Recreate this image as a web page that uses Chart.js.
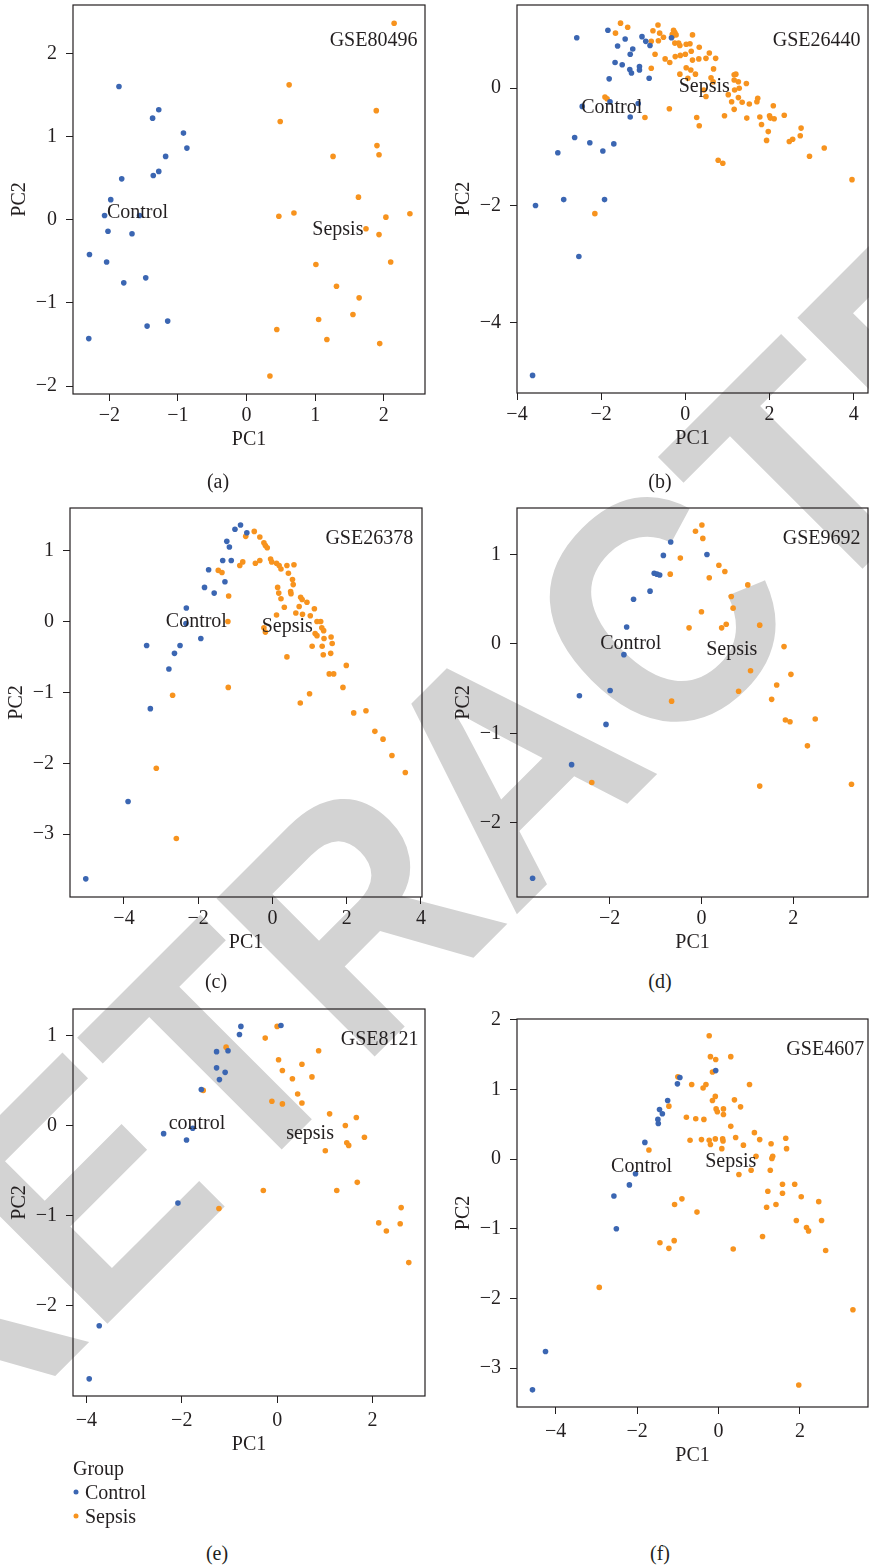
<!DOCTYPE html>
<html>
<head>
<meta charset="utf-8">
<script src="https://cdn.jsdelivr.net/npm/chart.js@4.4.1/dist/chart.umd.min.js"></script>
<style>
html,body{margin:0;padding:0;width:869px;height:1567px;overflow:hidden;background:#fff;}
#page{position:relative;width:869px;height:1567px;overflow:hidden;}
#page canvas{position:absolute;z-index:1;}
#wm{position:absolute;left:0;top:0;z-index:0;}
.lab{position:absolute;z-index:2;font-family:"Liberation Serif",serif;font-size:20px;line-height:24px;color:#231f20;white-space:nowrap;}
.ctr{transform:translate(-50%,-50%);}
.dot{position:absolute;z-index:2;width:5px;height:5px;border-radius:50%;transform:translate(-50%,-50%);}
</style>
</head>
<body>
<div id="page">
<svg id="wm" width="869" height="1567" xmlns="http://www.w3.org/2000/svg">
  <text x="0" y="0" transform="translate(-57.6 1488.8) rotate(-45) scale(0.91 1)" font-family="Liberation Sans, Arial, sans-serif" font-weight="bold" font-size="325" fill="#d3d3d3">RETRACTED</text>
</svg>
</div>
<script>
// ---------- data ----------
const groups = ['Control', 'Sepsis'];
const groupsLower = ['control', 'sepsis'];
const datasetIds = ['GSE80496', 'GSE26440', 'GSE26378', 'GSE9692', 'GSE8121', 'GSE4607'];
const panelTags = ['(a)', '(b)', '(c)', '(d)', '(e)', '(f)'];
const axisTitles = ['PC1', 'PC2'];
const legendTitle = 'Group';

const ctrlA = [[-1.86,1.60],[-1.28,1.32],[-1.37,1.22],[-0.92,1.04],[-0.87,0.86],[-1.18,0.76],[-1.28,0.58],[-1.36,0.53],[-1.82,0.49],[-1.98,0.24],[-2.07,0.05],[-1.56,0.05],[-2.02,-0.14],[-1.67,-0.17],[-2.29,-0.42],[-2.04,-0.51],[-1.79,-0.76],[-1.47,-0.70],[-1.45,-1.28],[-1.15,-1.22],[-2.30,-1.43]];
const sepsA = [[2.15,2.36],[0.62,1.62],[1.89,1.31],[0.49,1.18],[1.90,0.89],[1.93,0.78],[1.26,0.76],[1.63,0.27],[0.47,0.04],[0.69,0.08],[2.38,0.07],[2.03,0.03],[1.74,-0.11],[1.93,-0.18],[2.10,-0.51],[1.01,-0.54],[1.31,-0.80],[1.64,-0.94],[1.55,-1.14],[1.05,-1.20],[1.17,-1.44],[1.94,-1.49],[0.44,-1.32],[0.34,-1.88]];

const ctrlB = [[-2.58,0.86],[-1.84,0.99],[-1.03,0.88],[-1.43,0.84],[-1.61,0.72],[-1.25,0.67],[-0.94,0.80],[-0.84,0.73],[-1.31,0.58],[-1.67,0.44],[-1.50,0.40],[-1.32,0.32],[-1.28,0.26],[-1.09,0.37],[-1.09,0.31],[-0.86,0.17],[-1.81,0.16],[-0.33,0.86],[-1.79,-0.23],[-2.45,-0.31],[-1.12,-0.26],[-1.31,-0.49],[-2.63,-0.84],[-2.27,-0.93],[-1.70,-0.95],[-1.96,-1.07],[-3.03,-1.10],[-2.89,-1.90],[-1.92,-1.90],[-3.56,-2.00],[-2.53,-2.87],[-3.63,-4.90]];
const sepsB = [[-1.54,1.11],[-1.37,1.04],[-1.66,0.94],[-0.65,1.08],[-0.77,0.98],[-0.61,0.94],[-0.52,0.87],[-0.64,0.81],[-0.81,0.80],[-0.28,0.99],[-0.25,0.95],[-0.31,0.92],[-0.22,0.91],[-0.30,0.89],[0.17,0.91],[-0.72,0.58],[-0.25,0.77],[-0.13,0.73],[-0.16,0.77],[0.02,0.75],[0.11,0.76],[0.33,0.70],[-0.24,0.54],[-0.12,0.56],[0.00,0.58],[0.14,0.63],[-0.48,0.50],[-0.37,0.44],[0.17,0.48],[0.32,0.50],[0.49,0.51],[0.57,0.60],[0.72,0.51],[-0.81,0.34],[0.02,0.35],[0.13,0.31],[-0.13,0.24],[0.24,0.24],[0.06,0.17],[0.67,0.33],[0.61,0.18],[0.66,0.11],[0.49,-0.14],[0.44,-0.03],[1.16,0.23],[1.20,0.24],[1.26,0.11],[1.45,0.08],[1.16,0.14],[1.17,-0.03],[1.28,0.00],[1.02,-0.11],[1.26,-0.16],[1.35,-0.24],[1.10,-0.23],[1.16,-0.36],[1.52,-0.27],[1.72,-0.17],[1.70,-0.23],[2.09,-0.30],[0.93,-0.47],[1.46,-0.51],[1.77,-0.49],[2.00,-0.47],[2.02,-0.51],[2.11,-0.52],[2.35,-0.46],[1.81,-0.62],[1.97,-0.74],[1.93,-0.89],[2.47,-0.91],[2.55,-0.87],[2.75,-0.68],[2.73,-0.81],[3.30,-1.02],[2.95,-1.16],[3.96,-1.56],[0.27,-0.50],[0.33,-0.64],[0.78,-1.23],[0.89,-1.28],[-0.38,-0.35],[-0.96,-0.50],[-1.91,-0.15],[-1.86,-0.18],[-2.15,-2.14]];

const ctrlC = [[-0.86,1.36],[-1.01,1.30],[-0.69,1.25],[-1.23,1.13],[-1.16,1.05],[-1.34,0.86],[-1.11,0.86],[-1.72,0.73],[-1.28,0.56],[-1.83,0.48],[-1.57,0.40],[-2.32,0.19],[-2.33,-0.03],[-1.93,-0.24],[-3.39,-0.34],[-2.49,-0.34],[-2.64,-0.45],[-2.79,-0.67],[-3.29,-1.23],[-3.89,-2.54],[-5.03,-3.63]];
const sepsC = [[-0.49,1.27],[-0.34,1.19],[-0.72,1.20],[-0.23,1.11],[-0.19,1.07],[-0.14,1.04],[-0.88,0.79],[-0.80,0.84],[-0.46,0.82],[-0.34,0.86],[-0.05,0.88],[-0.02,0.84],[0.11,0.82],[0.18,0.79],[0.23,0.74],[0.39,0.79],[0.58,0.80],[0.43,0.68],[0.54,0.59],[0.56,0.52],[0.14,0.48],[0.17,0.40],[0.23,0.32],[0.32,0.20],[0.49,0.42],[0.50,0.39],[0.76,0.34],[0.80,0.31],[0.72,0.21],[0.93,0.27],[1.13,0.18],[0.63,0.12],[0.81,0.10],[1.02,0.08],[0.11,0.09],[1.20,0.00],[1.30,0.00],[1.33,-0.09],[1.38,-0.13],[1.15,-0.17],[1.20,-0.20],[1.39,-0.24],[1.58,-0.22],[1.61,-0.31],[1.34,-0.35],[1.07,-0.35],[1.37,-0.47],[1.57,-0.45],[0.39,-0.50],[-0.23,-0.09],[-0.19,-0.15],[1.53,-0.74],[1.65,-0.74],[1.99,-0.62],[1.90,-0.93],[1.00,-1.02],[0.75,-1.15],[2.19,-1.29],[2.52,-1.26],[2.76,-1.55],[2.98,-1.66],[3.22,-1.89],[3.58,-2.13],[-1.46,0.72],[-1.36,0.69],[-1.18,0.36],[-1.20,0.00],[-1.19,-0.93],[-2.69,-1.04],[-3.13,-2.07],[-2.59,-3.06]];

const ctrlD = [[-0.67,1.14],[-0.83,0.99],[0.12,1.00],[-1.03,0.79],[-0.97,0.78],[-0.91,0.77],[-1.12,0.59],[-1.48,0.50],[-1.63,0.19],[-1.69,-0.12],[-1.99,-0.52],[-2.66,-0.58],[-2.08,-0.90],[-2.83,-1.35],[-3.68,-2.62]];
const sepsD = [[0.01,1.33],[-0.13,1.26],[0.03,1.18],[-0.46,0.96],[-0.68,0.78],[0.38,0.88],[0.51,0.81],[0.17,0.74],[1.01,0.66],[0.65,0.53],[0.69,0.40],[0.00,0.36],[-0.27,0.18],[0.44,0.18],[0.54,0.22],[1.27,0.21],[1.80,-0.03],[1.07,-0.30],[1.95,-0.34],[1.64,-0.46],[0.81,-0.53],[1.53,-0.62],[-0.65,-0.64],[1.83,-0.85],[1.93,-0.87],[2.48,-0.84],[2.31,-1.14],[-2.39,-1.55],[1.27,-1.59],[3.27,-1.57]];

const ctrlE = [[-0.76,1.10],[-0.79,1.01],[0.08,1.11],[-1.27,0.82],[-1.03,0.83],[-1.27,0.64],[-1.09,0.59],[-1.21,0.51],[-1.59,0.40],[-2.38,-0.09],[-1.77,-0.03],[-1.90,-0.16],[-2.08,-0.86],[-3.73,-2.22],[-3.94,-2.81]];
const sepsE = [[0.00,1.10],[-0.25,0.97],[-1.07,0.87],[0.87,0.83],[0.03,0.73],[0.52,0.68],[0.11,0.61],[0.32,0.52],[0.73,0.54],[0.43,0.35],[-0.11,0.27],[0.11,0.24],[0.52,0.25],[-1.55,0.39],[1.10,0.13],[1.66,0.09],[1.43,0.00],[1.83,-0.13],[1.46,-0.19],[1.50,-0.22],[1.01,-0.28],[1.68,-0.63],[1.25,-0.72],[-0.29,-0.72],[-1.22,-0.92],[2.60,-0.91],[2.13,-1.08],[2.58,-1.09],[2.29,-1.17],[2.76,-1.52]];

const ctrlF = [[-0.07,1.27],[-0.95,1.17],[-1.01,1.08],[-1.25,0.84],[-1.45,0.71],[-1.38,0.65],[-1.49,0.57],[-1.48,0.51],[-1.81,0.24],[-2.04,-0.21],[-2.19,-0.37],[-2.57,-0.53],[-2.51,-1.00],[-4.25,-2.76],[-4.57,-3.31]];
const sepsF = [[-0.23,1.77],[-0.20,1.47],[-0.07,1.43],[0.30,1.47],[-0.15,1.25],[-1.00,1.18],[-0.66,1.07],[-0.38,1.02],[-0.31,1.07],[0.76,1.07],[-0.08,0.90],[-0.15,0.84],[0.39,0.85],[-1.22,0.76],[-0.06,0.72],[-0.03,0.68],[0.12,0.72],[0.12,0.64],[0.54,0.75],[-0.79,0.60],[-0.56,0.58],[-0.36,0.57],[0.30,0.47],[0.88,0.38],[-0.70,0.27],[-0.42,0.28],[-0.23,0.27],[-0.20,0.21],[-0.08,0.29],[0.10,0.29],[0.11,0.26],[0.08,0.15],[0.42,0.31],[0.61,0.20],[1.01,0.28],[1.29,0.22],[1.65,0.30],[1.67,0.15],[0.92,0.04],[1.33,0.04],[1.31,0.01],[-1.71,0.13],[0.50,-0.22],[0.80,-0.16],[1.27,-0.16],[1.21,-0.46],[1.57,-0.36],[1.57,-0.49],[1.87,-0.36],[2.03,-0.54],[2.46,-0.61],[1.18,-0.69],[1.41,-0.65],[1.91,-0.88],[2.53,-0.88],[2.16,-0.98],[2.21,-1.03],[2.63,-1.31],[1.08,-1.11],[0.36,-1.29],[-0.90,-0.57],[-1.08,-0.65],[-0.53,-0.76],[-1.44,-1.20],[-1.22,-1.28],[-1.09,-1.17],[-2.93,-1.84],[3.30,-2.16],[1.97,-3.24]];

const xTicksA = [-2,-1,0,1,2];   const yTicksA = [-2,-1,0,1,2];
const xTicksB = [-4,-2,0,2,4];   const yTicksB = [-4,-2,0];
const xTicksC = [-4,-2,0,2,4];   const yTicksC = [-3,-2,-1,0,1];
const xTicksD = [-2,0,2];        const yTicksD = [-2,-1,0,1];
const xTicksE = [-4,-2,0,2];     const yTicksE = [-2,-1,0,1];
const xTicksF = [-4,-2,0,2];     const yTicksF = [-3,-2,-1,0,1,2];

// ---------- layout / style ----------
const INK = '#231f20';
const BLUE = '#3b66b2';
const ORANGE = '#f7931e';
const FONT = '"Liberation Serif", "Times New Roman", serif';
const YW = 70, PADT = 24, PADR = 14;

const panels = [
  {ctrl:ctrlA, seps:sepsA, xt:xTicksA, yt:yTicksA, box:[73,5,425,394],  xr:[-2.53,2.60], yr:[-2.096,2.58], H:58, tp:3,
   notes:[[datasetIds[0],1.85,2.15],[groups[0],-1.59,0.08],[groups[1],1.33,-0.12]], tag:[218,481]},
  {ctrl:ctrlB, seps:sepsB, xt:xTicksB, yt:yTicksB, box:[517,5,868,393],  xr:[-4.0,4.34], yr:[-5.20,1.42], H:58, tp:3,
   notes:[[datasetIds[1],3.12,0.81],[groups[0],-1.75,-0.34],[groups[1],0.45,0.02]], tag:[660,481]},
  {ctrl:ctrlC, seps:sepsC, xt:xTicksC, yt:yTicksC, box:[70,508,422,897],  xr:[-5.455,4.03], yr:[-3.886,1.60], H:58, tp:3,
   notes:[[datasetIds[2],2.61,1.17],[groups[0],-2.05,-0.01],[groups[1],0.40,-0.08]], tag:[216,981]},
  {ctrl:ctrlD, seps:sepsD, xt:xTicksD, yt:yTicksD, box:[517,508,868,897], xr:[-4.02,3.63], yr:[-2.83,1.52], H:58, tp:3,
   notes:[[datasetIds[3],2.62,1.18],[groups[0],-1.54,0.00],[groups[1],0.66,-0.06]], tag:[660,981]},
  {ctrl:ctrlE, seps:sepsE, xt:xTicksE, yt:yTicksE, box:[73,1009,425,1396], xr:[-4.28,3.10], yr:[-3.0,1.293], H:61, tp:6,
   notes:[[datasetIds[4],2.15,0.95],[groupsLower[0],-1.68,0.02],[groupsLower[1],0.69,-0.09]], tag:[217,1553]},
  {ctrl:ctrlF, seps:sepsF, xt:xTicksF, yt:yTicksF, box:[517,1019,868,1407], xr:[-4.95,3.67], yr:[-3.556,2.01], H:61, tp:6,
   notes:[[datasetIds[5],2.62,1.57],[groups[0],-1.89,-0.11],[groups[1],0.30,-0.04]], tag:[660,1553]}
];

const fmt = v => (v < 0 ? '\u2212' + Math.abs(v) : String(v));

const framePlugin = {
  id: 'frame',
  beforeDatasetsDraw(chart) {
    const {ctx, chartArea: {left, top, right, bottom}} = chart;
    ctx.save();
    ctx.strokeStyle = INK;
    ctx.lineWidth = 1.2;
    ctx.strokeRect(left, top, right - left, bottom - top);
    ctx.restore();
  }
};
const notesPlugin = {
  id: 'notes',
  afterDatasetsDraw(chart, args, opts) {
    const {ctx, scales: {x, y}} = chart;
    ctx.save();
    ctx.fillStyle = INK;
    ctx.font = '20px ' + FONT;
    ctx.textAlign = 'center';
    ctx.textBaseline = 'middle';
    (opts.items || []).forEach(([t, vx, vy]) => {
      ctx.fillText(t, x.getPixelForValue(vx), y.getPixelForValue(vy));
    });
    ctx.restore();
  }
};

Chart.defaults.font.family = FONT;
Chart.defaults.font.size = 20;
Chart.defaults.color = INK;

const page = document.getElementById('page');

panels.forEach((p, i) => {
  const [L, T, R, B] = p.box;
  const w = (R - L) + YW + PADR;
  const h = (B - T) + PADT + p.H;
  const cv = document.createElement('canvas');
  cv.width = w; cv.height = h;
  cv.style.left = (L - YW) + 'px';
  cv.style.top = (T - PADT) + 'px';
  cv.style.width = w + 'px';
  cv.style.height = h + 'px';
  page.appendChild(cv);

  const gridOpts = {display: true, drawOnChartArea: false, drawTicks: true, tickLength: 7, color: INK, lineWidth: 1};
  new Chart(cv, {
    type: 'scatter',
    data: {
      datasets: [
        {label: groups[0], data: p.ctrl.map(([x, y]) => ({x, y})), backgroundColor: BLUE, borderWidth: 0, pointRadius: 2.8},
        {label: groups[1], data: p.seps.map(([x, y]) => ({x, y})), backgroundColor: ORANGE, borderWidth: 0, pointRadius: 2.8}
      ]
    },
    options: {
      responsive: false,
      animation: false,
      devicePixelRatio: 1,
      layout: {padding: {top: PADT, right: PADR, left: 0, bottom: 0}},
      plugins: {legend: {display: false}, tooltip: {enabled: false}, notes: {items: p.notes}},
      scales: {
        x: {
          type: 'linear', min: p.xr[0], max: p.xr[1],
          afterFit: s => { s.height = p.H; },
          afterBuildTicks: s => { s.ticks = p.xt.map(v => ({value: v})); },
          grid: gridOpts, border: {display: false},
          ticks: {padding: p.tp, color: INK, font: {size: 20}, callback: fmt, autoSkip: false, maxRotation: 0},
          title: {display: true, text: axisTitles[0], color: INK, font: {size: 20}, padding: {top: 0, bottom: 0}}
        },
        y: {
          type: 'linear', min: p.yr[0], max: p.yr[1],
          afterFit: s => { s.width = YW; },
          afterBuildTicks: s => { s.ticks = p.yt.map(v => ({value: v})); },
          grid: gridOpts, border: {display: false},
          ticks: {padding: 9, color: INK, font: {size: 20}, callback: fmt, autoSkip: false},
          title: {display: true, text: axisTitles[1], color: INK, font: {size: 20}, padding: {top: 5, bottom: 0}}
        }
      }
    },
    plugins: [framePlugin, notesPlugin]
  });

  const tag = document.createElement('div');
  tag.className = 'lab ctr';
  tag.textContent = panelTags[i];
  tag.style.left = p.tag[0] + 'px';
  tag.style.top = p.tag[1] + 'px';
  page.appendChild(tag);
});

// legend (panel e)
const legTitle = document.createElement('div');
legTitle.className = 'lab';
legTitle.textContent = legendTitle;
legTitle.style.left = '73px';
legTitle.style.top = (1468 - 12) + 'px';
page.appendChild(legTitle);
[[groups[0], BLUE, 1492], [groups[1], ORANGE, 1516]].forEach(([t, c, yy]) => {
  const d = document.createElement('div');
  d.className = 'dot';
  d.style.background = c;
  d.style.left = '76px';
  d.style.top = yy + 'px';
  page.appendChild(d);
  const l = document.createElement('div');
  l.className = 'lab';
  l.textContent = t;
  l.style.left = '85px';
  l.style.top = (yy - 12) + 'px';
  page.appendChild(l);
});
</script>
</body>
</html>
